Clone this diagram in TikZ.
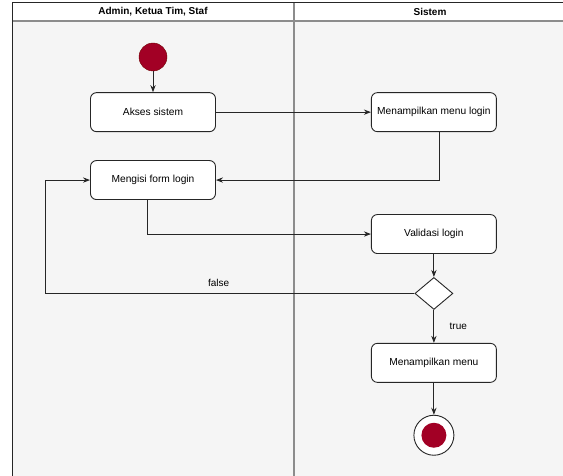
\documentclass[tikz,border=0pt]{standalone}
\usepackage{fontspec}
\setmainfont{Liberation Sans}
\usepackage{xcolor}
\usetikzlibrary{shapes.geometric, arrows.meta, positioning}
\definecolor{lanebg}{HTML}{F5F5F5}
\definecolor{lanegrey}{HTML}{8C8C8C}
\definecolor{startred}{HTML}{A20025}
\definecolor{startdark}{HTML}{6F0000}
\tikzset{
    activity/.style={
        rectangle,
        draw=black!85,
        line width=0.9pt,
        rounded corners=6pt,
        minimum width=125pt,
        minimum height=39pt,
        fill=white,
        font=\fontsize{10.2}{12}\selectfont
    },
    initial/.style={
        circle,
        draw=startdark,
        fill=startred,
        minimum size=28pt,
        inner sep=0pt
    },
    final/.style={
        circle,
        draw=black!85,
        line width=0.9pt,
        fill=white,
        minimum size=40pt,
        inner sep=0pt
    },
    finaldot/.style={
        circle,
        fill=startred,
        minimum size=25pt,
        inner sep=0pt
    },
    decision/.style={
        diamond,
        draw=black!85,
        line width=0.9pt,
        fill=white,
        minimum width=38pt,
        minimum height=32pt,
        inner sep=0pt
    },
    lanetitle/.style={
        font=\fontsize{10}{12}\selectfont\bfseries
    },
    flow/.style={
        draw=black!85,
        line width=0.9pt,
        -Stealth
    },
    guard/.style={
        font=\fontsize{10}{12}\selectfont
    }
}

\begin{document}
\begin{tikzpicture}[x=1pt, y=-1pt]
\useasboundingbox (0,0) rectangle (563,476);

% Swimlanes
\fill[white] (0,0) rectangle (563,476);
\fill[lanebg] (12,21) rectangle (570,480);
\draw[lanegrey, line width=1.6pt] (12,21) -- (570,21);
\draw[lanegrey, line width=1.4pt] (294,3) -- (294,480);
\draw[black!85, line width=1pt] (12,480) -- (12,3) -- (570,3);
\node[lanetitle] (lane_user) at (153,12) {Admin, Ketua Tim, Staf};
\node[lanetitle] (lane_system) at (430,12) {Sistem};

% Start
\node[initial] (start) at (153,57) {};

% Admin lane
\node[activity, below=21pt of start] (akses) {Akses sistem};
\node[activity, below=28pt of akses] (mengisi) {Mengisi form login};

% Sistem lane
\node[activity, right=155pt of akses] (menu_login) {Menampilkan menu login};
\node[activity, below=82pt of menu_login] (validasi) {Validasi login};
\node[decision, below=23pt of validasi] (cek_login) {};
\node[activity, below=33pt of cek_login] (menu) {Menampilkan menu};

% End
\node[final, below=32pt of menu] (end) {};
\node[finaldot] (end_dot) at (end) {};

% Connections
\draw[flow] (start) -- (akses);
\draw[flow] (akses) -- (menu_login);
\draw[flow] ([xshift=6pt]menu_login.south) |- (mengisi.east);
\draw[flow] ([xshift=-6pt]mengisi.south) |- (validasi.west);
\draw[flow] (validasi) -- (cek_login);
\draw[flow] (cek_login.west) -| node[guard, pos=0.265, above=3pt] {false} ([xshift=-45pt]mengisi.west) -- (mengisi.west);
\draw[flow] (cek_login) -- node[guard, right=12pt] {true} (menu);
\draw[flow] (menu) -- (end);

\end{tikzpicture}
\end{document}
